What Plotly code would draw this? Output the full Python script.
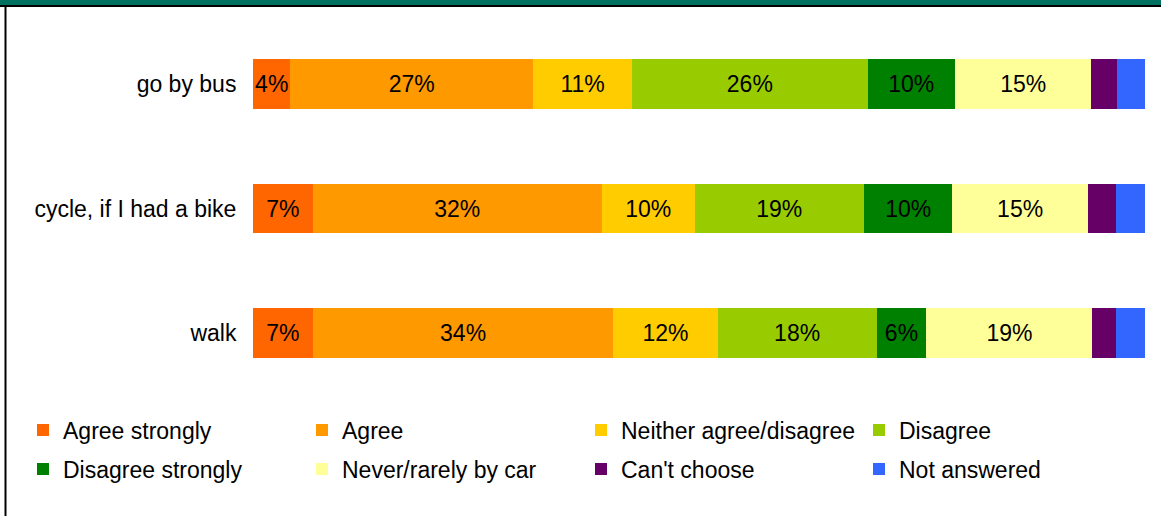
import plotly.graph_objects as go

categories = ["go by bus", "cycle, if I had a bike", "walk"]
series_names = ["Agree strongly", "Agree", "Neither agree/disagree", "Disagree",
                "Disagree strongly", "Never/rarely by car", "Can't choose", "Not answered"]
agree_strongly = [4.2, 6.7, 6.7]
agree = [27.2, 32.4, 33.7]
neither = [11.1, 10.4, 11.7]
disagree = [26.4, 19.0, 17.8]
disagree_strongly = [9.8, 9.9, 5.6]
never_rarely = [15.3, 15.2, 18.6]
cant_choose = [2.9, 3.1, 2.7]
not_answered = [3.3, 3.3, 3.3]
colors = ["#FF6600", "#FF9900", "#FFCC00", "#99CC00", "#008000", "#FFFF99", "#660066", "#3366FF"]
values = [agree_strongly, agree, neither, disagree, disagree_strongly, never_rarely, cant_choose, not_answered]
show_label = [True, True, True, True, True, True, False, False]

W, H = 1161, 516
L, R, T, B = 253, 16, 22, 121
pw, ph = W - L - R, H - T - B
FONT = "Liberation Sans, Arial, sans-serif"

def px_x(p):
    return (p - L) / pw

def px_y(p):
    return (H - B - p) / ph

# legend text start positions (px) and row centres (px)
legend_text_x = [63, 342, 621, 899]
legend_row_y = [430, 469]

fig = go.Figure()
legends = {}
for i, (name, vals, col, lab) in enumerate(zip(series_names, values, colors, show_label)):
    lname = "legend" if i == 0 else f"legend{i+1}"
    fig.add_trace(go.Bar(
        y=categories, x=vals, name=name, orientation="h",
        marker=dict(color=col, line=dict(width=0)),
        texttemplate="%{x:.0f}%" if lab else "",
        textposition="inside", insidetextanchor="middle",
        constraintext="none", textangle=0,
        textfont=dict(family=FONT, size=23, color="black"),
        legend=lname, hoverinfo="skip",
    ))
    col_i, row_i = i % 4, i // 4
    legends[lname] = dict(
        x=px_x(legend_text_x[col_i] - 40), xanchor="left",
        y=px_y(legend_row_y[row_i]), yanchor="middle",
        font=dict(family=FONT, size=23, color="black"),
        bgcolor="rgba(0,0,0,0)", borderwidth=0,
        itemclick=False, itemdoubleclick=False,
    )

fig.update_layout(
    width=W, height=H,
    barmode="stack", bargap=0.6,
    margin=dict(l=L, r=R, t=T, b=B, pad=0),
    plot_bgcolor="white", paper_bgcolor="white",
    showlegend=True,
    xaxis=dict(range=[0, 100], visible=False, fixedrange=True),
    yaxis=dict(categoryorder="array", categoryarray=categories, autorange="reversed",
               showline=False, showgrid=False, zeroline=False,
               ticks="outside", ticklen=11, tickcolor="rgba(0,0,0,0)",
               tickfont=dict(family=FONT, size=23, color="black"), fixedrange=True),
    shapes=[
        dict(type="rect", xref="paper", yref="paper", x0=px_x(-5), x1=px_x(W + 5),
             y0=px_y(5), y1=px_y(-5), fillcolor="#007060", line=dict(width=0), layer="above"),
        dict(type="line", xref="paper", yref="paper", x0=px_x(0), x1=px_x(W + 5),
             y0=px_y(6), y1=px_y(6), line=dict(color="black", width=2), layer="above"),
        dict(type="line", xref="paper", yref="paper", x0=px_x(5.5), x1=px_x(5.5),
             y0=px_y(6), y1=px_y(H + 5), line=dict(color="black", width=2), layer="above"),
    ],
    **legends,
)

fig.write_html(
    "out.html",
    config={"displayModeBar": False},
    post_script="document.body.style.margin='0';document.body.style.overflow='hidden';",
)
